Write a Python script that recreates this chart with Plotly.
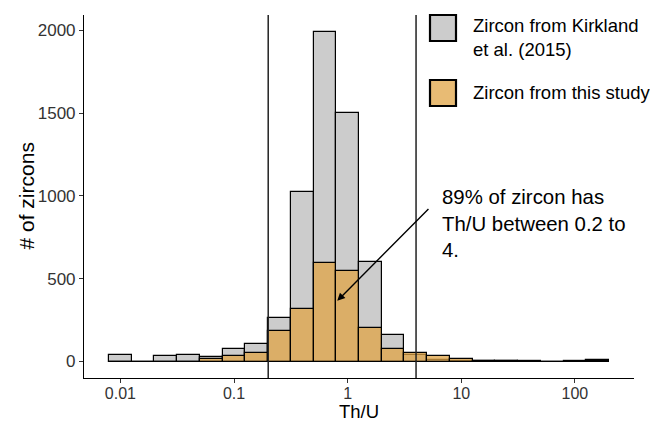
import numpy as np
import plotly.graph_objects as go

# Th/U histogram: bins are 0.2 wide in log10(Th/U), centred on these values
bin_centers_log = [-2.0, -1.8, -1.6, -1.4, -1.2, -1.0, -0.8, -0.6, -0.4, -0.2, 0.0,
                   0.2, 0.4, 0.6, 0.8, 1.0, 1.2, 1.4, 1.6, 1.8, 2.0, 2.2]
bin_width_log = 0.2

# counts per bin
kirkland_counts = [40, 0, 36, 38, 26, 76, 108, 262, 1026, 1992, 1500,
                   600, 158, 38, 8, 4, 5, 2, 1, 0, 1, 10]
this_study_counts = [0, 0, 0, 0, 18, 34, 52, 184, 316, 596, 544,
                     204, 73, 54, 36, 16, 3, 1, 0, 0, 0, 3]

# reference Th/U limits
thu_limits = [0.2, 4]

# axis ticks
x_tick_values = [0.01, 0.1, 1, 10, 100]
x_tick_labels = ["0.01", "0.1", "1", "10", "100"]
y_tick_values = [0, 500, 1000, 1500, 2000]

series_names = ["Zircon from Kirkland<br>et al. (2015)", "Zircon from this study"]
note_text = "89% of zircon has<br>Th/U between 0.2 to<br>4."
note_arrow_head = (0.81, 366)   # (Th/U, count)
note_arrow_tail = (5.3, 930)

GREY = "#CCCCCC"
ORANGE = "rgba(224,164,70,0.75)"
FONT = "Liberation Sans, Arial, sans-serif"
TICK_GREY = "#333333"

W, H = 650, 423
M_L, M_R, M_T, M_B = 84, 16, 15, 45
plot_w, plot_h = W - M_L - M_R, H - M_T - M_B


def px_to_paper(px, py):
    """Convert page pixel position to paper coordinates."""
    return (px - M_L) / plot_w, (H - M_B - py) / plot_h


centers = np.array(bin_centers_log)
edges = np.append(centers - bin_width_log / 2, centers[-1] + bin_width_log / 2)

fig = go.Figure()

# zero-height baseline of the histogram
fig.add_trace(go.Scatter(x=[edges[0], edges[-1]], y=[0, 0], mode="lines",
                         line=dict(color="black", width=1.2), showlegend=False,
                         hoverinfo="skip"))

fig.add_trace(go.Bar(x=centers, y=kirkland_counts, width=bin_width_log,
                     marker=dict(color=GREY, line=dict(color="black", width=1.2)),
                     name="Kirkland", showlegend=False))
fig.add_trace(go.Bar(x=centers, y=this_study_counts, width=bin_width_log,
                     marker=dict(color=ORANGE, line=dict(color="black", width=1.2)),
                     name="This study", showlegend=False))

# vertical limit lines
for v in thu_limits:
    fig.add_shape(type="line", xref="x", yref="paper",
                  x0=np.log10(v), x1=np.log10(v), y0=0, y1=1,
                  line=dict(color="#222222", width=1.5), layer="above")

# ggplot-style 5% expansion
data_min, data_max = edges[0], edges[-1]
pad_x = 0.05 * (data_max - data_min)
y_top = max(kirkland_counts)
pad_y = 0.05 * y_top

# manual legend: key boxes and labels placed in page pixels
legend_rows = [
    (GREY, 15, 41, 38),
    (ORANGE, 80, 106, 92),
]
for (fill, top, bottom, text_mid), label in zip(legend_rows, series_names):
    kx0, ky1 = px_to_paper(430, top)
    kx1, ky0 = px_to_paper(456, bottom)
    tx, ty = px_to_paper(471, text_mid)
    fig.add_shape(type="rect", xref="paper", yref="paper",
                  x0=kx0, x1=kx1, y0=ky0, y1=ky1,
                  fillcolor=fill, line=dict(color="black", width=2.2))
    fig.add_annotation(xref="paper", yref="paper", x=tx, y=ty,
                       text=label, showarrow=False, xanchor="left",
                       yanchor="middle", align="left",
                       font=dict(family=FONT, size=18.5, color="black"))

# arrow + note
fig.add_annotation(x=np.log10(note_arrow_head[0]), y=note_arrow_head[1],
                   ax=np.log10(note_arrow_tail[0]), ay=note_arrow_tail[1],
                   axref="x", ayref="y", xref="x", yref="y", text="",
                   showarrow=True, arrowhead=2, arrowsize=1.1, arrowwidth=1.4,
                   arrowcolor="black")
fig.add_annotation(x=np.log10(note_arrow_tail[0]) + 0.09, y=1070, xref="x", yref="y",
                   text=note_text, showarrow=False, xanchor="left", yanchor="top",
                   align="left", font=dict(family=FONT, size=20.4, color="black"))

# axis titles
ytx, yty = px_to_paper(26, 0)
fig.add_annotation(xref="paper", yref="paper", x=ytx, y=0.5, text="# of zircons",
                   textangle=-90, showarrow=False, xanchor="center", yanchor="middle",
                   font=dict(family=FONT, size=21, color="black"))
xtx, xty = px_to_paper(0, 423)
fig.add_annotation(xref="paper", yref="paper", x=0.5, y=xty, text="Th/U",
                   showarrow=False, xanchor="center", yanchor="bottom", borderpad=0,
                   font=dict(family=FONT, size=18.5, color="black"))

fig.update_layout(
    width=W, height=H,
    margin=dict(l=M_L, r=M_R, t=M_T, b=M_B),
    plot_bgcolor="white", paper_bgcolor="white",
    barmode="overlay", bargap=0,
    font=dict(family=FONT, color="black"),
    showlegend=False,
)
fig.update_xaxes(
    range=[data_min - pad_x, data_max + pad_x],
    tickvals=np.log10(x_tick_values), ticktext=x_tick_labels,
    ticks="outside", ticklen=4, tickcolor=TICK_GREY, tickwidth=1,
    ticklabelstandoff=-3,
    showline=True, linecolor="black", linewidth=1.1,
    showgrid=False, zeroline=False, automargin=False,
    tickfont=dict(family=FONT, size=16, color=TICK_GREY),
)
fig.update_yaxes(
    range=[-pad_y, y_top + pad_y],
    tickvals=y_tick_values,
    ticks="outside", ticklen=4, tickcolor=TICK_GREY, tickwidth=1,
    showline=True, linecolor="black", linewidth=1.1,
    showgrid=False, zeroline=False, automargin=False,
    tickfont=dict(family=FONT, size=17, color=TICK_GREY),
)

fig.write_html("out.html")
